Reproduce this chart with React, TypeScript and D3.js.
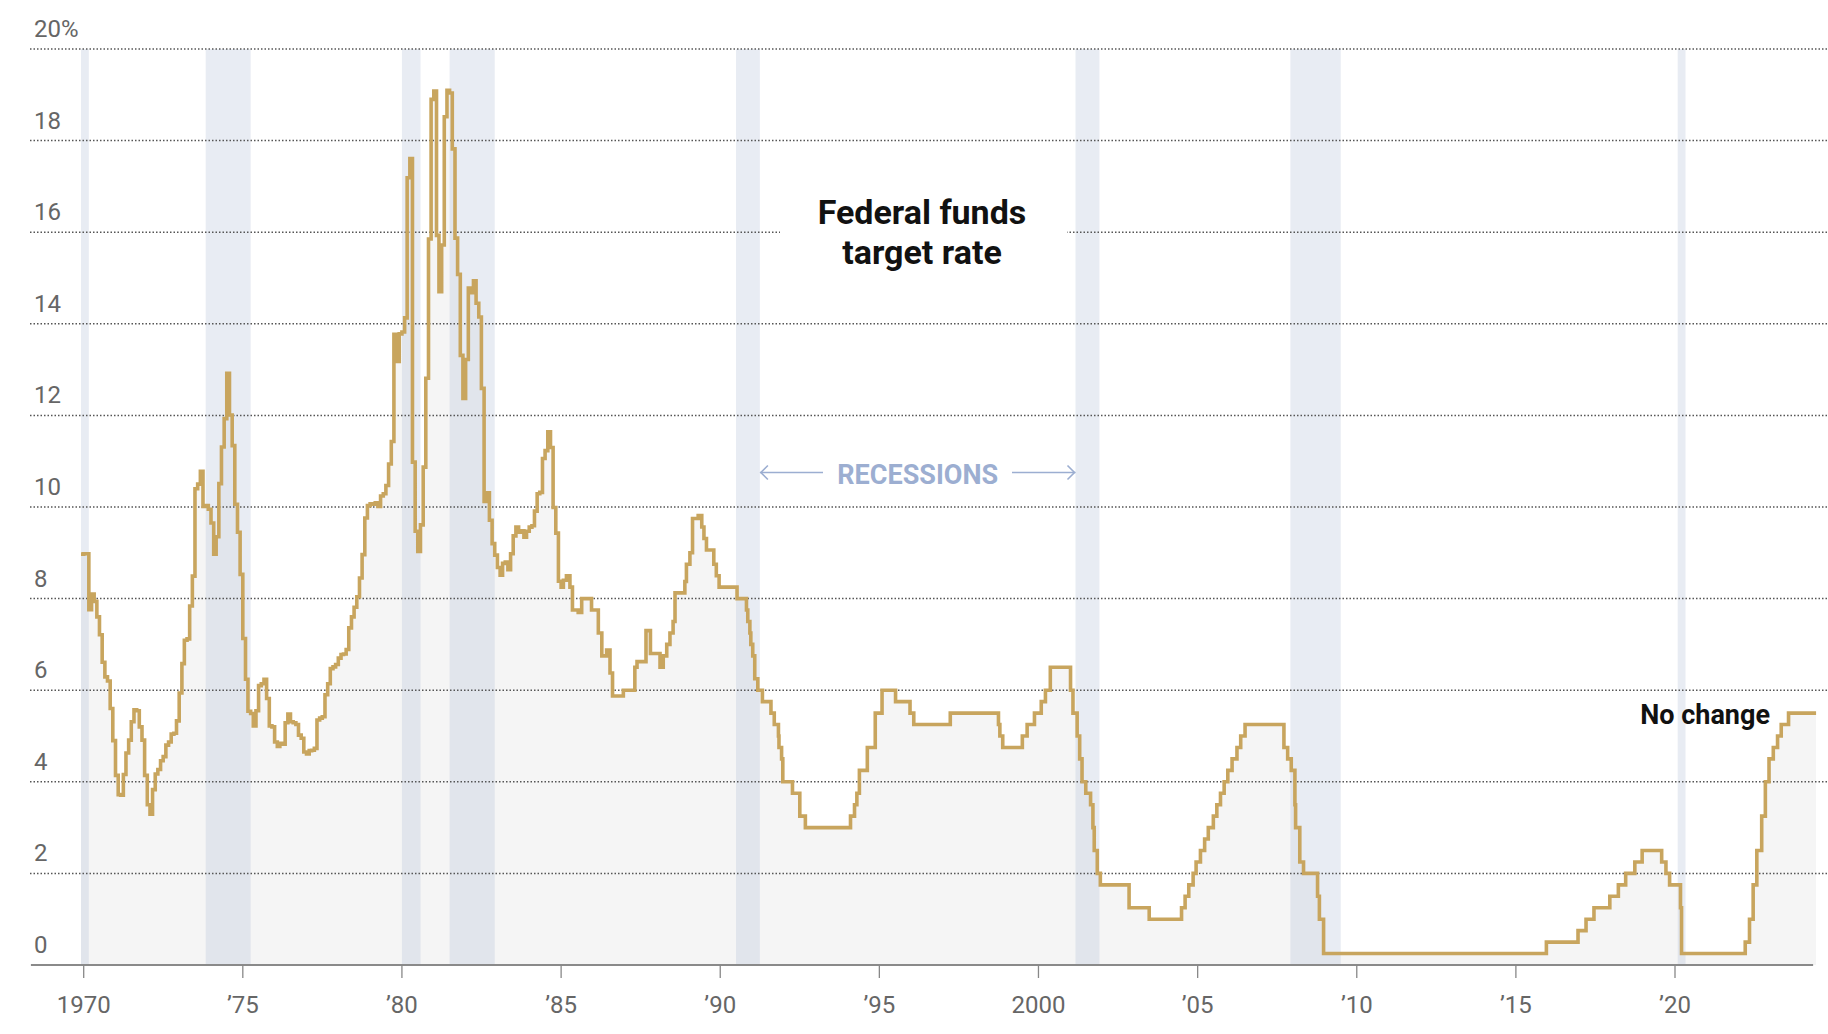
import React from 'react';
import * as d3 from 'd3';

const W = 1828;
const H = 1034;

// Monthly effective rate, consecutive months starting Dec 1969 through Dec 1984
const monthlyStart = [1969, 11];
const monthlyRates = [
  8.97,
  8.98, 8.98, 7.76, 8.10, 7.94, 7.60, 7.21, 6.61, 6.29, 6.20, 5.60, 4.90,
  4.14, 3.72, 3.71, 4.16, 4.63, 4.91, 5.31, 5.57, 5.55, 5.20, 4.91, 4.14,
  3.50, 3.29, 3.83, 4.17, 4.27, 4.46, 4.55, 4.80, 4.87, 5.04, 5.06, 5.33,
  5.94, 6.58, 7.09, 7.12, 7.84, 8.49, 10.40, 10.50, 10.78, 10.01, 10.03, 9.95,
  9.65, 8.97, 9.35, 10.51, 11.31, 11.93, 12.92, 12.01, 11.34, 10.06, 9.45, 8.53,
  7.13, 6.24, 5.54, 5.49, 5.22, 5.55, 6.10, 6.14, 6.24, 5.82, 5.22, 5.20,
  4.87, 4.77, 4.84, 4.82, 5.29, 5.48, 5.31, 5.29, 5.25, 5.02, 4.95, 4.65,
  4.61, 4.68, 4.69, 4.73, 5.35, 5.39, 5.42, 5.90, 6.14, 6.47, 6.51, 6.56,
  6.70, 6.78, 6.79, 6.89, 7.36, 7.60, 7.81, 8.04, 8.45, 8.96, 9.76, 10.03,
  10.07, 10.06, 10.09, 10.01, 10.24, 10.29, 10.47, 10.94, 11.43, 13.77, 13.18, 13.78,
  13.82, 14.13, 17.19, 17.61, 10.98, 9.47, 9.03, 9.61, 10.87, 12.81, 15.85, 18.90,
  19.08, 15.93, 14.70, 15.72, 18.52, 19.10, 19.04, 17.82, 15.87, 15.08, 13.31, 12.37,
  13.22, 14.78, 14.68, 14.94, 14.45, 14.15, 12.59, 10.12, 10.31, 9.71, 9.20, 8.95,
  8.68, 8.51, 8.77, 8.80, 8.63, 8.98, 9.37, 9.56, 9.45, 9.48, 9.34, 9.47,
  9.56, 9.59, 9.91, 10.29, 10.32, 11.06, 11.23, 11.64, 11.30, 9.99, 9.43, 8.38,
];

// Target rate changes from 1985 on
const changeDates = [
  '1985-01-01', '1985-01-27', '1985-03-03', '1985-04-12', '1985-05-11', '1985-07-16', '1985-08-25', '1985-12-16',
  '1986-03-04', '1986-04-13', '1986-06-07', '1986-07-16', '1986-08-14', '1986-12-16',
  '1987-04-27', '1987-05-22', '1987-09-02', '1987-10-23',
  '1988-02-10', '1988-03-18', '1988-04-27', '1988-06-03', '1988-07-09', '1988-07-31', '1988-11-21', '1988-12-09',
  '1989-01-18', '1989-02-17', '1989-04-23', '1989-06-03', '1989-06-28', '1989-07-27', '1989-10-19', '1989-11-17', '1989-12-19',
  '1990-07-13', '1990-10-29', '1990-11-13', '1990-12-07', '1990-12-18',
  '1991-01-09', '1991-02-01', '1991-03-08', '1991-04-30', '1991-08-06', '1991-09-13', '1991-10-31', '1991-11-06', '1991-12-06', '1991-12-20',
  '1992-04-09', '1992-07-02', '1992-09-04',
  '1994-02-04', '1994-03-22', '1994-04-18', '1994-05-17', '1994-08-16', '1994-11-15',
  '1995-02-01', '1995-07-06', '1995-12-19', '1996-01-31', '1997-03-25',
  '1998-09-29', '1998-10-15', '1998-11-17', '1999-06-30', '1999-08-24', '1999-11-16',
  '2000-02-02', '2000-03-21', '2000-05-16',
  '2001-01-03', '2001-01-31', '2001-03-20', '2001-04-18', '2001-05-15', '2001-06-27', '2001-08-21', '2001-09-17', '2001-10-02', '2001-11-06', '2001-12-11',
  '2002-11-06', '2003-06-25',
  '2004-06-30', '2004-08-10', '2004-09-21', '2004-11-10', '2004-12-14',
  '2005-02-02', '2005-03-22', '2005-05-03', '2005-06-30', '2005-08-09', '2005-09-20', '2005-11-01', '2005-12-13',
  '2006-01-31', '2006-03-28', '2006-05-10', '2006-06-29',
  '2007-09-18', '2007-10-31', '2007-12-11',
  '2008-01-22', '2008-01-30', '2008-03-18', '2008-04-30', '2008-10-08', '2008-10-29', '2008-12-16',
  '2015-12-17', '2016-12-14', '2017-03-16', '2017-06-15', '2017-12-14',
  '2018-03-22', '2018-06-14', '2018-09-27', '2018-12-20',
  '2019-08-01', '2019-09-19', '2019-10-31',
  '2020-03-04', '2020-03-16',
  '2022-03-17', '2022-05-05', '2022-06-16', '2022-07-28', '2022-09-22', '2022-11-03', '2022-12-15',
  '2023-02-02', '2023-03-23', '2023-05-04', '2023-07-27',
];
const changeRates = [
  8.25, 8.4, 8.5, 8.25, 7.75, 7.7, 8.0, 7.75,
  7.25, 6.75, 6.875, 6.375, 5.875, 6.0,
  6.5, 6.625, 7.3, 6.8,
  6.5, 6.75, 7.0, 7.25, 7.5, 8.125, 8.375, 8.75,
  9.0, 9.75, 9.8125, 9.5625, 9.3125, 9.0625, 8.75, 8.5, 8.25,
  8.0, 7.75, 7.5, 7.25, 7.0,
  6.75, 6.25, 6.0, 5.75, 5.5, 5.25, 5.0, 4.75, 4.5, 4.0,
  3.75, 3.25, 3.0,
  3.25, 3.5, 3.75, 4.25, 4.75, 5.5,
  6.0, 5.75, 5.5, 5.25, 5.5,
  5.25, 5.0, 4.75, 5.0, 5.25, 5.5,
  5.75, 6.0, 6.5,
  6.0, 5.5, 5.0, 4.5, 4.0, 3.75, 3.5, 3.0, 2.5, 2.0, 1.75,
  1.25, 1.0,
  1.25, 1.5, 1.75, 2.0, 2.25,
  2.5, 2.75, 3.0, 3.25, 3.5, 3.75, 4.0, 4.25,
  4.5, 4.75, 5.0, 5.25,
  4.75, 4.5, 4.25,
  3.5, 3.0, 2.25, 2.0, 1.5, 1.0, 0.25,
  0.5, 0.75, 1.0, 1.25, 1.5,
  1.75, 2.0, 2.25, 2.5,
  2.25, 2.0, 1.75,
  1.25, 0.25,
  0.5, 1.0, 1.75, 2.5, 3.25, 4.0, 4.5,
  4.75, 5.0, 5.25, 5.5,
];
const lastDate = '2024-06-07';

const recessionStarts = ['1969-12-01', '1973-11-01', '1980-01-01', '1981-07-01', '1990-07-01', '2001-03-01', '2007-12-01', '2020-02-01'];
const recessionEnds = ['1970-03-01', '1975-04-01', '1980-08-01', '1982-12-01', '1991-04-01', '2001-12-01', '2009-07-01', '2020-05-01'];

const yTicks = [0, 2, 4, 6, 8, 10, 12, 14, 16, 18, 20];
const xTickYears = [1970, 1975, 1980, 1985, 1990, 1995, 2000, 2005, 2010, 2015, 2020];
const xTickLabels = ['1970', '\u201975', '\u201980', '\u201985', '\u201990', '\u201995', '2000', '\u201905', '\u201910', '\u201915', '\u201920'];
const axisDomain = ['1968-05-05', '2024-05-04'];

const FONT = "Roboto, 'Noto Sans', Arial, sans-serif";

function parse(s: string) {
  return d3.timeParse('%Y-%m-%d')(s) as Date;
}

export default function App() {
  const x = d3.scaleTime()
    .domain([new Date(1970, 0, 1), new Date(2020, 0, 1)])
    .range([83.7, 1675]);
  const y = d3.scaleLinear().domain([0, 20]).range([965, 49]);

  type P = { date: Date; v: number };
  const pts: P[] = [];
  monthlyRates.forEach((v, i) => {
    pts.push({ date: new Date(monthlyStart[0], monthlyStart[1] + i, 1), v });
  });
  changeDates.forEach((d, i) => pts.push({ date: parse(d), v: changeRates[i] }));
  pts.push({ date: parse(lastDate), v: changeRates[changeRates.length - 1] });

  const line = d3.line<P>().curve(d3.curveStepAfter).x(d => x(d.date)).y(d => y(d.v));
  const area = d3.area<P>().curve(d3.curveStepAfter).x(d => x(d.date)).y0(y(0)).y1(d => y(d.v));

  const ax0 = x(parse(axisDomain[0]));
  const ax1 = x(parse(axisDomain[1]));

  const band1990End = x(parse(recessionEnds[4]));
  const band2001Start = x(parse(recessionStarts[5]));
  const recMid = (band1990End + band2001Start) / 2;
  const arrowY = 472.5;
  const blue = '#9caed1';

  return (
    <svg width={W} height={H} style={{ position: 'absolute', left: 0, top: 0, background: '#fff' }}
      fontFamily={FONT}>
      <path d={area(pts) || ''} fill="#f5f5f5" />
      {recessionStarts.map((s, i) => {
        const x0 = x(parse(s));
        const x1 = x(parse(recessionEnds[i]));
        return <rect key={s} x={x0} y={y(20)} width={x1 - x0} height={y(0) - y(20)} fill="#b9c5da" fillOpacity={0.33} />;
      })}
      {yTicks.filter(t => t > 0).map(t => (
        <line key={t} x1={30} x2={W} y1={y(t)} y2={y(t)} stroke="#555" strokeWidth={1.5} strokeDasharray="1.5 2" />
      ))}
      {yTicks.map(t => (
        <text key={'l' + t} x={34} y={y(t) - 12} fontSize={24} fill="#666">{t === 20 ? '20%' : t}</text>
      ))}
      {/* title with white knock-out */}
      <rect x={780} y={y(16) - 6} width={287} height={12} fill="#fff" />
      <text x={922} y={224} textAnchor="middle" fontSize={34} fontWeight={700} fill="#111">Federal funds</text>
      <text x={922} y={263.5} textAnchor="middle" fontSize={34} fontWeight={700} fill="#111">target rate</text>

      {/* recessions label */}
      <text x={recMid} y={483.5} textAnchor="middle" fontSize={27} fontWeight={700} fill={blue}>RECESSIONS</text>
      <g stroke={blue} strokeWidth={1.6} fill="none">
        <line x1={band1990End} x2={823} y1={arrowY} y2={arrowY} />
        <polyline points={`${band1990End + 8},${arrowY - 7} ${band1990End + 1},${arrowY} ${band1990End + 8},${arrowY + 7}`} />
        <line x1={1012} x2={band2001Start} y1={arrowY} y2={arrowY} />
        <polyline points={`${band2001Start - 8},${arrowY - 7} ${band2001Start - 1},${arrowY} ${band2001Start - 8},${arrowY + 7}`} />
      </g>

      {/* axis */}
      <line x1={ax0} x2={ax1} y1={y(0)} y2={y(0)} stroke="#8a8a8a" strokeWidth={2} />
      {xTickYears.map((yr, i) => {
        const xx = x(new Date(yr, 0, 1));
        return (
          <g key={yr}>
            <line x1={xx} x2={xx} y1={y(0)} y2={y(0) + 13} stroke="#888" strokeWidth={1.3} />
            <text x={xx} y={1013} textAnchor="middle" fontSize={24} fill="#666">{xTickLabels[i]}</text>
          </g>
        );
      })}

      <path d={line(pts) || ''} fill="none" stroke="#c8a55e" strokeWidth={3.6} strokeLinejoin="miter" />

      <text x={1770} y={723.5} textAnchor="end" fontSize={27} fontWeight={700} fill="#111">No change</text>
    </svg>
  );
}
